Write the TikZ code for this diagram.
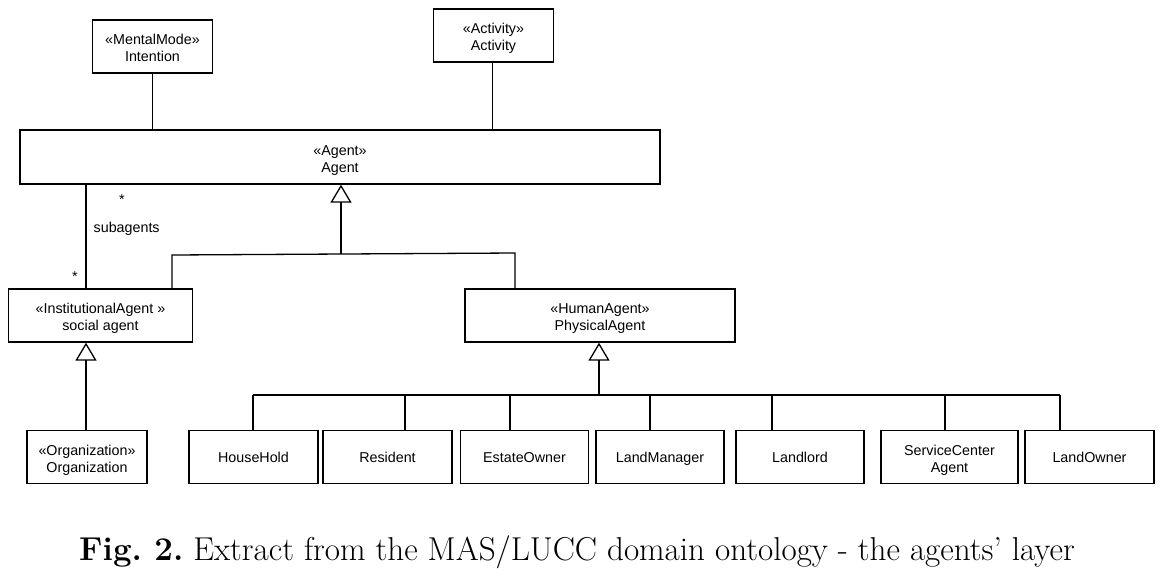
\documentclass[tikz,border=0pt]{standalone}
\usepackage{fontspec}
\usetikzlibrary{arrows.meta}
\newfontfamily\umlfont{Liberation Sans}

\begin{document}
\begin{tikzpicture}[x=1pt, y=-1pt, line width=1.3pt,
    cls/.style={draw, align=center, inner sep=0pt, minimum height=53pt,
      text height=10.3pt, text depth=0pt,
      font=\umlfont\fontsize{14.3}{17}\selectfont},
    cls2/.style={cls, text height=33.3pt, text depth=3pt},
    lbl/.style={inner sep=0pt, font=\umlfont\fontsize{14.3}{17}\selectfont},
    gen/.style={-{Triangle[open, length=18pt, width=21pt, line width=1.3pt]}}]
    \useasboundingbox (0,0) rectangle (1165,579);
    % Top classes
    \node[cls2, minimum width=120pt] (intention) at (152.5,46.5) {«MentalMode»\\Intention};
    \node[cls2, minimum width=120pt] (activity) at (493.5,35.5) {«Activity»\\Activity};
    \node[cls2, minimum width=640pt, minimum height=54pt] (agent) at (340,157) {«Agent»\\Agent};
    \draw (intention) -- (agent.north -| intention);
    \draw (activity.south -| 492.5,0) -- (agent.north -| 492.5,0);
    % Second level
    \node[cls2, minimum width=184pt] (inst) at (100.5,315.5) {«InstitutionalAgent »\\social agent};
    \node[cls2, minimum width=270pt] (human) at (600,315.5) {«HumanAgent»\\PhysicalAgent};
    \coordinate (aj) at (341,254);
    \coordinate (ajl) at (172,255);
    \coordinate (ajr) at (515,253);
    \draw[gen] (aj) -- (agent.south -| aj);
    \draw (inst.north -| ajl) -- (ajl) -- (ajr) -- (human.north -| ajr);
    % subagents association
    \coordinate (sa) at (86,237);
    \draw (agent.south -| sa) -- (inst.north -| sa);
    \node[lbl] (s1) at (122,200) {*};
    \node[lbl, anchor=west] (sub) at (93,229) {subagents};
    \node[lbl] (s2) at (75,277) {*};
    % Organization
    \node[cls2, minimum width=120pt] (org) at (87,457) {«Organization»\\Organization};
    \draw[gen] (org.north -| sa) -- (inst.south -| sa);
    % Physical agents
    \coordinate (hj) at (599,395);
    \coordinate (hl) at (253,395);
    \coordinate (hr) at (1060,395);
    \draw[gen] (hj) -- (human.south -| hj);
    \draw (hl) -- (hr);
    \foreach \n/\cx/\w/\lx/\txt in {hh/253.5/129/253/HouseHold, res/387.5/129/405/Resident,
        estate/524.5/128/510/EstateOwner, lm/660/128/650/LandManager,
        landlord/800/128/772/Landlord, lo/1089.5/129/1060/LandOwner} {
      \node[cls, minimum width=\w pt] (\n) at (\cx,457) {\txt};
      \coordinate (t\n) at (\lx,395);
      \draw (t\n) -- (\n.north -| t\n);
    }
    \node[cls2, minimum width=137pt] (sc) at (949.5,457) {ServiceCenter\\Agent};
    \coordinate (tsc) at (945,395);
    \draw (tsc) -- (sc.north -| tsc);
    % Caption
    \node[inner sep=0pt, font=\fontsize{33.1}{35}\selectfont] (caption) at (577,552)
      {\frenchspacing\textbf{Fig. 2.} Extract from the MAS/LUCC domain ontology - the agents' layer};
\end{tikzpicture}
\end{document}
